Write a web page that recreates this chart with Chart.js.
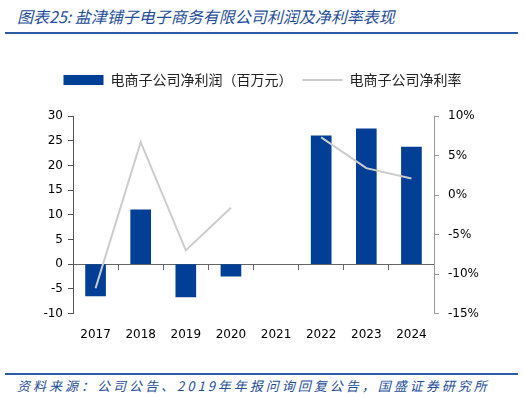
<!DOCTYPE html>
<html lang="zh">
<head>
<meta charset="UTF-8">
<title>盐津铺子电子商务有限公司利润及净利率表现</title>
<script src="https://cdn.jsdelivr.net/npm/chart.js"></script>
<style>
  body { margin: 0; width: 525px; height: 399px; background: #fff; position: relative; overflow: hidden; }
  .title { position: absolute; left: 17px; top: 4px; font: italic 16px "Noto Sans CJK SC", sans-serif; color: #1f4e9a; white-space: nowrap; }
  .rule { position: absolute; left: 5px; width: 513px; height: 2px; background: #2a5aa8; }
  .src { position: absolute; left: 17px; top: 376px; font: italic 13px "Noto Sans CJK SC", sans-serif; letter-spacing: 3px; color: #1f4e9a; white-space: nowrap; }
  #box { position: absolute; left: 0; top: 40px; width: 525px; height: 308px; }
</style>
</head>
<body>
<div class="title">图表25: 盐津铺子电子商务有限公司利润及净利率表现</div>
<div class="rule" style="top:32px"></div>
<div id="box"><canvas id="chart"></canvas></div>
<div class="rule" style="top:373px"></div>
<div class="src">资料来源：公司公告、2019年年报问询回复公告，国盛证券研究所</div>

<script>
// données
const years = ['2017', '2018', '2019', '2020', '2021', '2022', '2023', '2024'];
const profit = [-6.4, 11.0, -6.6, -2.4, null, 26.0, 27.4, 23.7];      // 百万元
const margin = [-11.8, 6.7, -7.0, -1.6, null, 7.3, 3.4, 2.1];         // %
const leftTicks = { min: -10, max: 30, step: 5 };
const rightTicks = { min: -15, max: 10, step: 5 };

const tickFont = { family: 'DejaVu Sans', size: 12 };

// espace sous la légende
const legendGap = {
    id: 'legendGap',
    beforeInit(chart) {
        const fit = chart.legend.fit;
        chart.legend.fit = function () {
            fit.bind(chart.legend)();
            this.height += 19;
        };
    }
};

new Chart(document.getElementById('chart'), {
    data: {
        labels: years,
        datasets: [
            {
                type: 'line',
                label: '电商子公司净利率',
                data: margin,
                yAxisID: 'y1',
                borderColor: '#cccccc',
                backgroundColor: '#cccccc',
                borderWidth: 2,
                pointRadius: 0,
                pointStyle: 'line',
                spanGaps: false,
                order: 1
            },
            {
                type: 'bar',
                label: '电商子公司净利润（百万元）',
                data: profit,
                yAxisID: 'y',
                backgroundColor: '#003f95',
                borderWidth: 0,
                barThickness: 20,
                pointStyle: 'rect',
                order: 2
            }
        ]
    },
    options: {
        responsive: true,
        maintainAspectRatio: false,
        animation: false,
        layout: { padding: { top: 23, bottom: 0 } },
        plugins: {
            legend: {
                position: 'top',
                reverse: true,
                labels: {
                    usePointStyle: true,
                    pointStyleWidth: 40,
                    boxHeight: 10,
                    padding: 10,
                    color: '#222',
                    font: { family: 'Noto Sans CJK SC', size: 14 }
                }
            },
            tooltip: { enabled: false }
        },
        scales: {
            x: {
                grid: { display: false },
                border: { display: false },
                ticks: { color: '#000', font: tickFont, padding: 6, maxRotation: 0 }
            },
            x2: {
                labels: years,
                position: { y: 0 },
                offset: true,
                grid: { offset: true, drawOnChartArea: false, tickLength: 5, color: '#666' },
                border: { color: '#666', width: 1 },
                ticks: { display: false },
                afterFit: s => { s.height = 0; }
            },
            y: {
                position: 'left',
                min: leftTicks.min,
                max: leftTicks.max,
                ticks: { stepSize: leftTicks.step, color: '#000', font: tickFont, padding: 5 },
                grid: { drawOnChartArea: false, tickLength: 5, color: '#555' },
                border: { color: '#555' },
                afterFit: s => { s.width = 73; }
            },
            y1: {
                position: 'right',
                min: rightTicks.min,
                max: rightTicks.max,
                ticks: { stepSize: rightTicks.step, color: '#000', font: tickFont, padding: 9,
                         callback: v => v + '%' },
                grid: { drawOnChartArea: false, tickLength: 5, color: '#999' },
                border: { color: '#999' },
                afterFit: s => { s.width = 91; }
            }
        }
    },
    plugins: [legendGap]
});
</script>
</body>
</html>
